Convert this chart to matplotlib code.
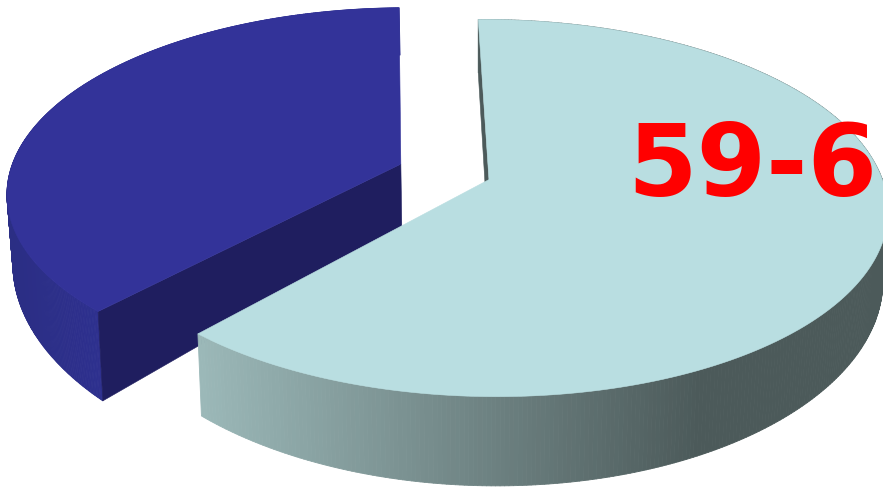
import numpy as np
import matplotlib
matplotlib.use("Agg")
import matplotlib.pyplot as plt
from matplotlib.collections import PolyCollection
from matplotlib.colors import to_rgb
from matplotlib.patches import Polygon

# Pie data
series_names = ["Other", "59-6"]
shares = [37.7, 61.9]
label_text = "59-6"

# Slice colours: top face, cut face, side ramp (near x_lo, near x_hi)
top_colors = ["#333399", "#b9dee1"]
cut_colors = ["#1f1e5f", "#4c5a5a"]
side_ramps = [("#2b2e84", "#2e3090"), ("#9bb8b8", "#4c5a5a")]
ramp_spans = [(8, 110), (200, 700)]

# 3D projection parameters, in pixels
CX, CY = 445.5, 172.0
A, B = 391.0, 182.0
K_TOP = 0.15
DEPTH = 66.0
K_DEPTH = [0.38, 0.25]
BOTTOM_X0, BOTTOM_SHRINK = 478.0, 0.0126
EXPLODE = [0.123, 0.118]
SPLIT_ANGLE = 222.0   # clockwise from the far side
SPLIT_GAP = 1.0       # extra angular gap on the left slice's cut


def project(u, v):
    """Top-face ground coordinates to pixels, with a simple perspective."""
    s = 1.0 / (1.0 + K_TOP * v)
    return CX + A * u * s, CY - B * v * s


def drop(u, v, k):
    """Same ground coordinates on the lower face of the disc."""
    x, y = project(u, v)
    return x + (BOTTOM_X0 - x) * BOTTOM_SHRINK, y + DEPTH / (1.0 + k * v)


def ramp(x, lo, hi, span):
    t = np.clip((x - span[0]) / (span[1] - span[0]), 0, 1)
    return tuple((1 - t) * a + t * b for a, b in zip(to_rgb(lo), to_rgb(hi)))


fig = plt.figure(figsize=(8.83, 4.88), dpi=100)
ax = fig.add_axes([0, 0, 1, 1])
ax.set_xlim(0, 883)
ax.set_ylim(488, 0)
ax.axis("off")

# Angular extent of the two slices, measured clockwise
left_start = SPLIT_ANGLE + SPLIT_GAP
extents = [(left_start, left_start + shares[0] / 100 * 360),
           (SPLIT_ANGLE - shares[1] / 100 * 360, SPLIT_ANGLE)]

for i, (a0, a1) in enumerate(extents):
    mid = np.radians((a0 + a1) / 2)
    ou, ov = EXPLODE[i] * np.sin(mid), EXPLODE[i] * np.cos(mid)
    th = np.radians(np.linspace(a0, a1, 400))
    u, v = ou + np.sin(th), ov + np.cos(th)
    xt, yt = project(u, v)
    xb, yb = drop(u, v, K_DEPTH[i])

    # Outer wall as thin quads shaded by screen position
    quads, colors = [], []
    for j in range(len(th) - 1):
        quads.append([(xt[j], yt[j]), (xt[j + 1], yt[j + 1]),
                      (xb[j + 1], yb[j + 1]), (xb[j], yb[j])])
        colors.append(ramp((xt[j] + xt[j + 1]) / 2, *side_ramps[i], ramp_spans[i]))
    ax.add_collection(PolyCollection(quads, facecolors=colors, edgecolors=colors,
                                     linewidths=0.6, zorder=1 + 3 * i))

    # The cut face that turns towards the viewer sits at each slice's first angle
    edge = np.radians(a0)
    eu, ev = ou + np.sin(edge), ov + np.cos(edge)
    face = [project(ou, ov), project(eu, ev),
            drop(eu, ev, K_DEPTH[i]), drop(ou, ov, K_DEPTH[i])]
    ax.add_patch(Polygon(face, closed=True, facecolor=cut_colors[i], edgecolor=cut_colors[i],
                         linewidth=0.4, zorder=2 + 3 * i))

    # Top face
    top = [project(ou, ov)] + list(zip(xt, yt))
    ax.add_patch(Polygon(top, closed=True, facecolor=top_colors[i], edgecolor=top_colors[i],
                         linewidth=0.4, zorder=3 + 3 * i))

ax.text(627, 196, label_text, color="#ff0000", fontsize=72, fontweight="bold",
        family="DejaVu Sans", ha="left", va="baseline", zorder=10)

fig.savefig("out.png", dpi=100)
